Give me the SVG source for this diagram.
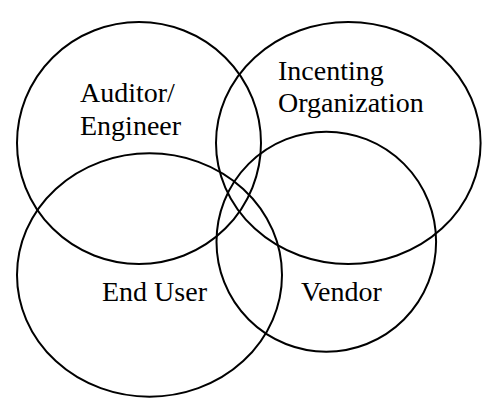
<svg xmlns="http://www.w3.org/2000/svg" width="500" height="408" viewBox="0 0 500 408">
<style>
.set{fill:none;stroke:#000;stroke-width:2}
.lbl{font-family:"Liberation Serif","Times New Roman",serif;font-size:28px;fill:#000}
</style>
<rect width="500" height="408" fill="#fff"/>
<g id="auditor">
<ellipse class="set" cx="139" cy="143" rx="122" ry="121"/>
<text class="lbl" x="80" y="102">Auditor/</text>
<text class="lbl" x="80" y="135">Engineer</text>
</g>
<g id="incenting">
<ellipse class="set" cx="348.3" cy="143" rx="132.3" ry="121"/>
<text class="lbl" x="278" y="80">Incenting</text>
<text class="lbl" x="278" y="112">Organization</text>
</g>
<g id="enduser">
<ellipse class="set" cx="149.5" cy="275" rx="132.5" ry="121.7"/>
<text class="lbl" x="102" y="300.5">End User</text>
</g>
<g id="vendor">
<ellipse class="set" cx="326.3" cy="241.7" rx="109.8" ry="110"/>
<text class="lbl" x="301" y="300.5">Vendor</text>
</g>
<g id="connectors"/>
</svg>
